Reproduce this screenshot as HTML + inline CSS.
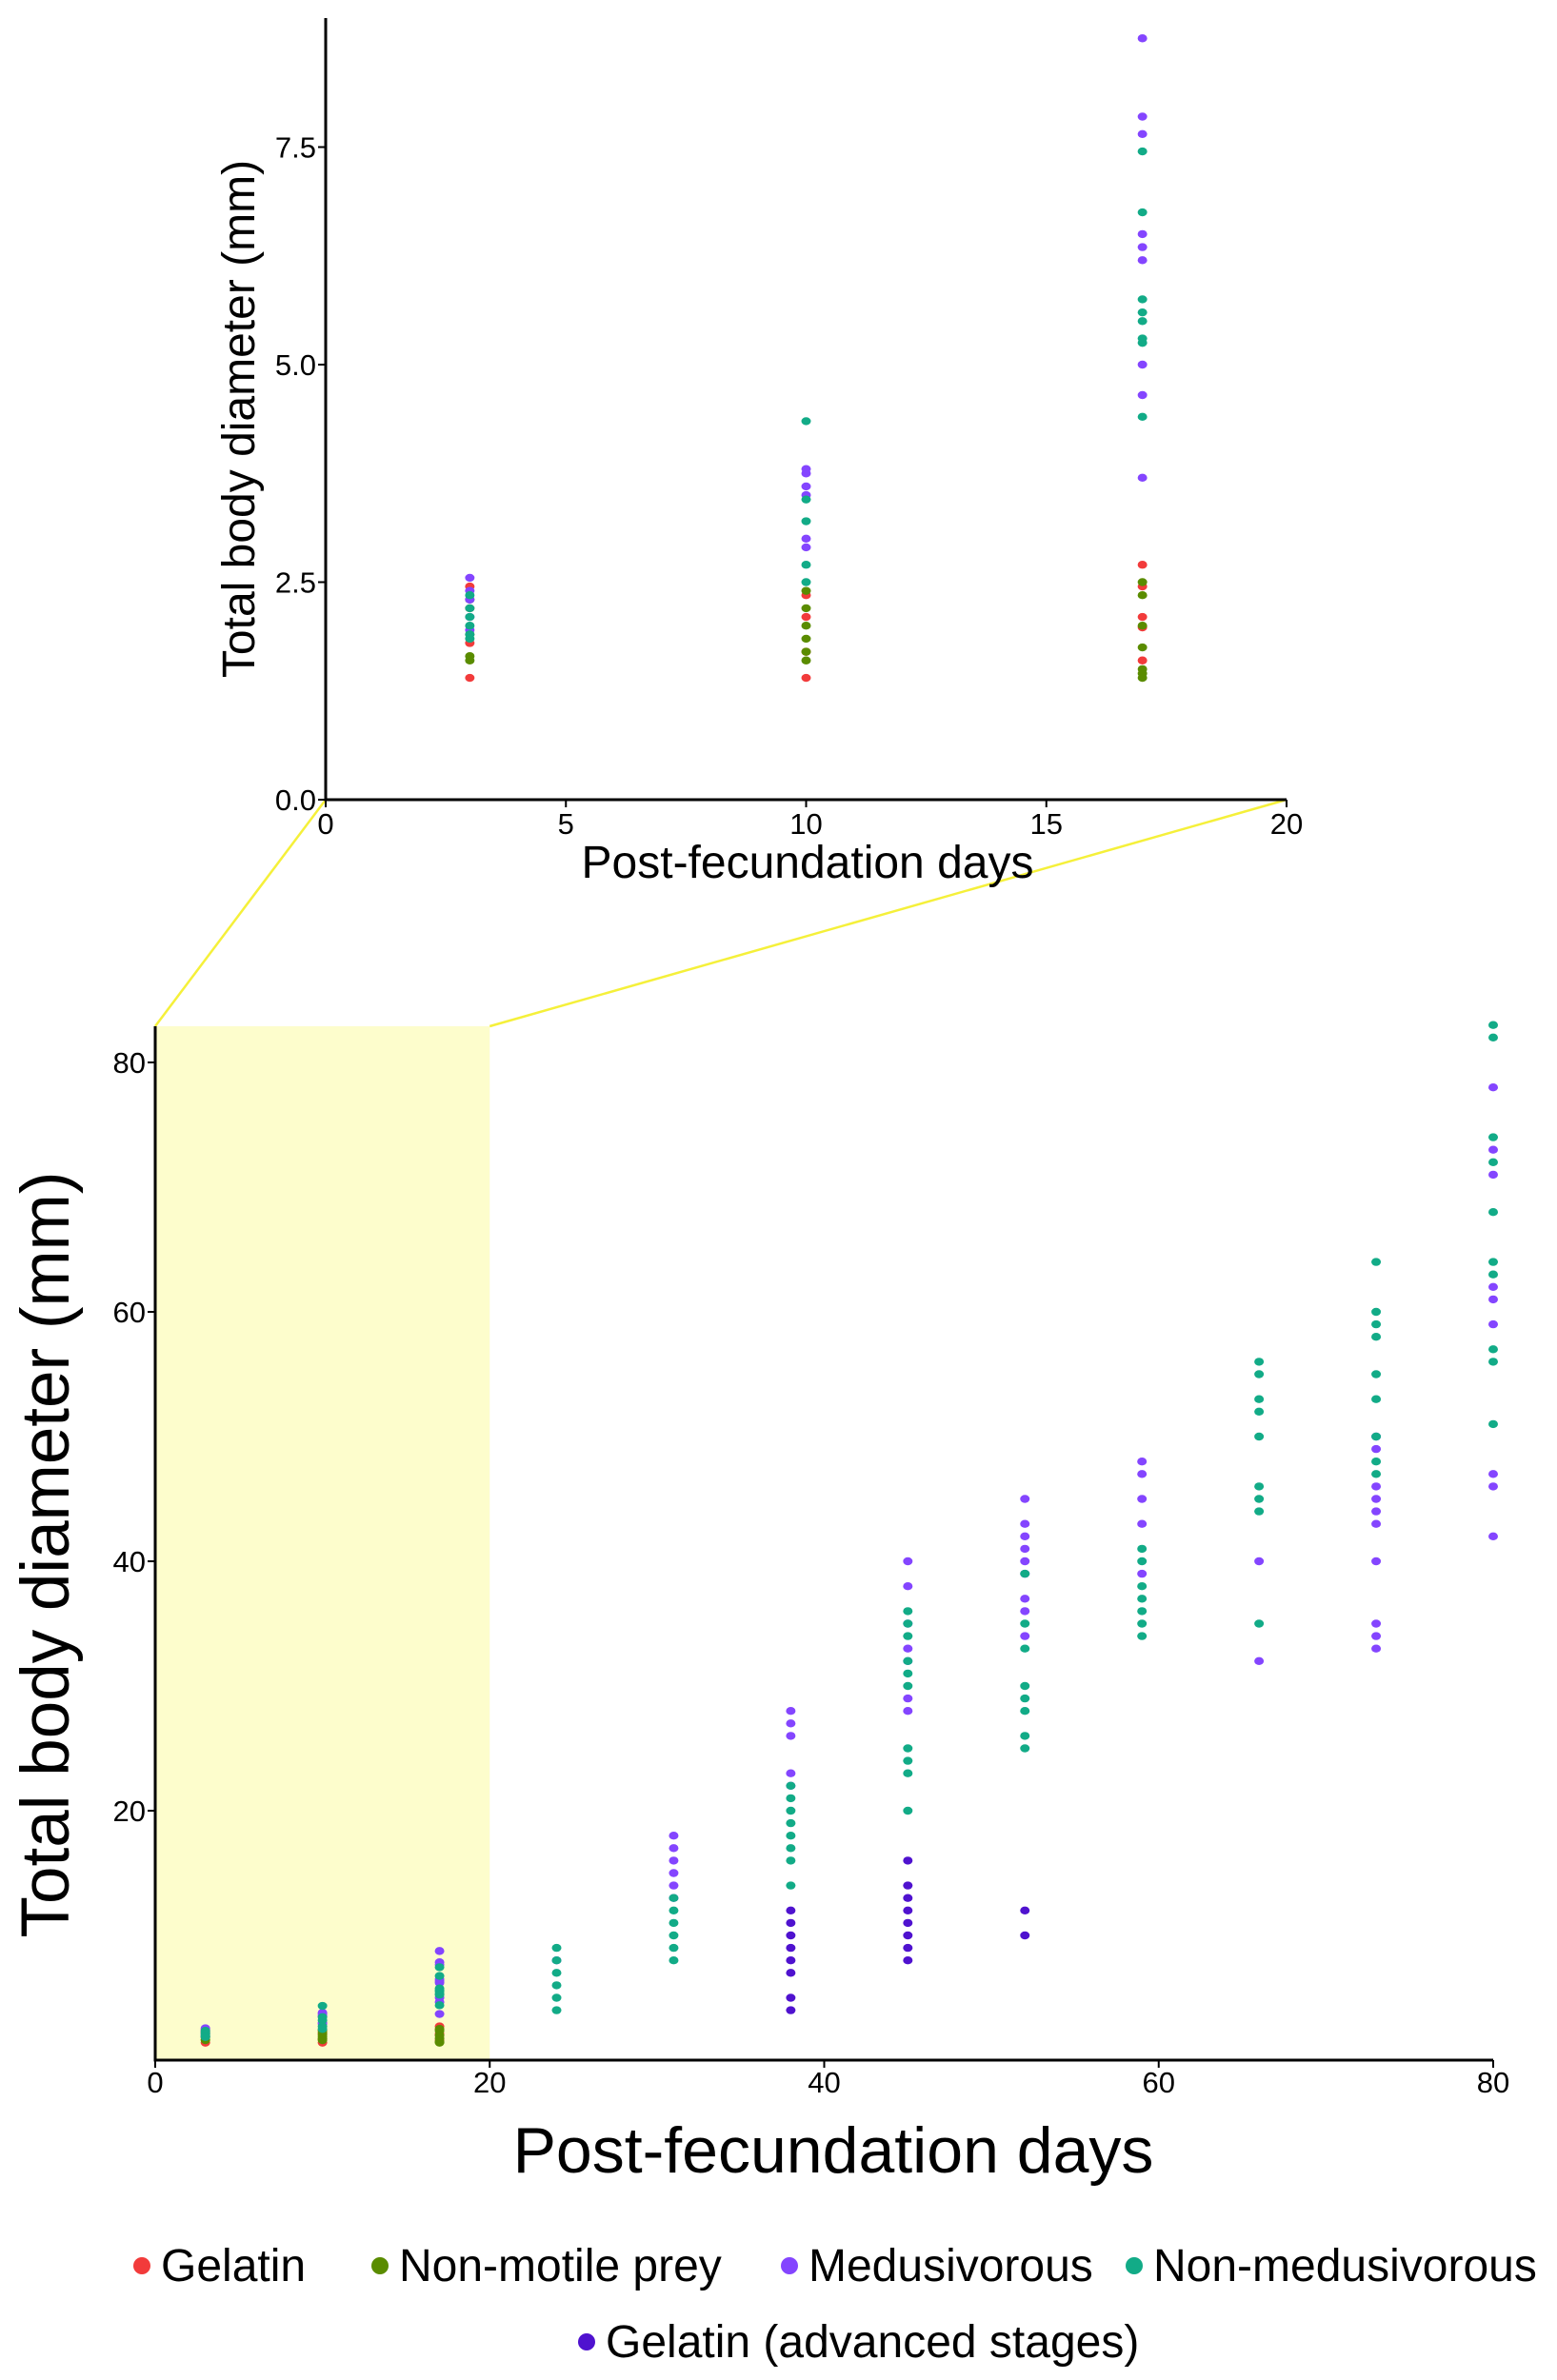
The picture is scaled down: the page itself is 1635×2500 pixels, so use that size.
<!DOCTYPE html>
<html><head><meta charset="utf-8"><style>
html,body{margin:0;padding:0;background:#fff;}
svg{display:block;font-family:"Liberation Sans",Arial,sans-serif;}
</style></head><body>
<svg id="chart" width="1635" height="2500" viewBox="0 0 1635 2500" xmlns="http://www.w3.org/2000/svg">
<g id="zoom"></g>
<g id="inset"></g>
<g id="main"></g>
<g id="legend"></g>
</svg>
<script>
const NS="http://www.w3.org/2000/svg";
const seriesNames=["Gelatin","Non-motile prey","Medusivorous","Non-medusivorous","Gelatin (advanced stages)"];
const seriesColors=["#f23b3b","#5a8c00","#8445ff","#12ab87","#4f12cf"];
const days=[3,10,17,24,31,38,45,52,59,66,73,80];
// values per series per day (mm)
const gelatin=[[1.4,1.8,2.2,2.45],[1.4,1.7,2.1,2.35],[2.7,2.45,2.1,1.98,1.6],[],[],[],[],[],[],[],[],[]];
const nonMotile=[[1.6,1.65,1.9,2.3],[1.6,1.7,1.85,2.0,2.2,2.4],[2.5,2.35,2.0,1.75,1.5,1.45,1.4],[],[],[],[],[],[],[],[],[]];
const medusivorous=[[2.55,2.4,2.3,2.1,1.95],[3.8,3.75,3.6,3.5,3.0,2.9],[8.75,7.85,7.65,6.5,6.35,6.2,5.0,4.65,3.7],[8],[18,17,16,15,14,13],[28,27,26,23,22],[40,38,35,33,32,29,28],[45,43,42,41,40,39,37,36,34],[48,47,45,43,39],[40,32],[50,49,46,45,44,43,40,35,34,33],[78,73,71,62,61,59,47,46,42]];
const nonMedusivorous=[[2.35,2.2,2.1,2.0,1.9,1.85],[4.35,3.45,3.2,2.7,2.5],[7.45,6.75,5.75,5.6,5.5,5.3,5.25,4.4],[9,8,7,6,5,4],[13,12,11,10,9,8],[22,21,20,19,18,17,16,14],[36,35,34,32,31,30,25,24,23,20],[39,35,33,30,29,28,26,25],[41,40,38,37,36,35,34],[56,55,53,52,50,46,45,44,35],[64,60,59,58,55,53,50,48,47],[83,82,74,72,68,64,63,57,56,51]];
const gelatinAdv=[[],[],[],[],[],[12,11,10,9,8,7,5,4],[16,14,13,12,11,10,9,8],[12,10],[],[],[],[]];
const allSeries=[gelatin,nonMotile,medusivorous,nonMedusivorous,gelatinAdv];
const insetXTicks=[0,5,10,15,20];
const insetYTicks=["0.0","2.5","5.0","7.5"];
const mainXTicks=[0,20,40,60,80];
const mainYTicks=[20,40,60,80];

function mk(tag,attrs,parent,text){const e=document.createElementNS(NS,tag);for(const k in attrs)e.setAttribute(k,attrs[k]);if(text!==undefined)e.textContent=text;parent.appendChild(e);return e;}

const ix=d=>342+d*(1351-342)/20;
const iy=v=>840-v*91.4;
const mx=d=>163+d*(1568-163)/80;
const my=v=>2164-v*13.1;

const zg=document.getElementById('zoom');
let r=mk('rect',{x:mx(0),y:1078,width:mx(20)-mx(0),height:my(0)-1078,fill:'#fdfdcc'},zg);


let l1=mk('line',{x1:mx(0),y1:1078,x2:ix(0),y2:iy(0),stroke:'#f5f03a','stroke-width':2.5},zg);


let l2=mk('line',{x1:mx(20),y1:1078,x2:ix(20),y2:iy(0),stroke:'#f5f03a','stroke-width':2.5},zg);



function drawAxes(g,x0,x1,y0,yTop,xt,xf,yt,yf,fs,xlabY){
  let a=mk('path',{d:`M${x0},${yTop} V${y0} H${x1}`,fill:'none',stroke:'#000','stroke-width':3},g);
  
  
  xt.forEach(t=>{
    mk('line',{x1:xf(t),y1:y0,x2:xf(t),y2:y0+8,stroke:'#000','stroke-width':2},g);
    let tx=mk('text',{x:xf(t),y:xlabY,'font-size':fs,'text-anchor':'middle'},g,String(t));
    
    
  });
  yt.forEach(t=>{
    const v=parseFloat(t);
    mk('line',{x1:x0-8,y1:yf(v),x2:x0,y2:yf(v),stroke:'#000','stroke-width':2},g);
    let ty=mk('text',{x:x0-10,y:yf(v)+11,'font-size':fs,'text-anchor':'end'},g,String(t));
    
    
  });
}
function drawPoints(g,xf,yf,maxDay){
  allSeries.forEach((s,si)=>{
    days.forEach((d,di)=>{
      if(d>maxDay)return;
      s[di].forEach(v=>{
        let c=mk('ellipse',{cx:xf(d),cy:yf(v),rx:5,ry:4.2,fill:seriesColors[si]},g);
        
        
      });
    });
  });
}
const ig=document.getElementById('inset');
drawAxes(ig,342,1351,840,19,insetXTicks,ix,insetYTicks,iy,31,876);
drawPoints(ig,ix,iy,20);
let it1=mk('text',{x:848,y:922,'font-size':48,'text-anchor':'middle'},ig,'Post-fecundation days');


let it2=mk('text',{x:0,y:0,'font-size':48,'text-anchor':'middle',transform:'translate(267,440) rotate(-90)'},ig,'Total body diameter (mm)');



const mg=document.getElementById('main');
drawAxes(mg,163,1568,2164,1078,mainXTicks,mx,mainYTicks,my,31,2198);
drawPoints(mg,mx,my,80);
let mt1=mk('text',{x:875,y:2282,'font-size':68,'text-anchor':'middle'},mg,'Post-fecundation days');


let mt2=mk('text',{x:0,y:0,'font-size':71,'text-anchor':'middle',transform:'translate(72,1633) rotate(-90)'},mg,'Total body diameter (mm)');



const lg=document.getElementById('legend');
const legPos=[[149,2380],[399,2380],[829,2380],[1191,2380],[616,2460]];
seriesNames.forEach((n,i)=>{
  const [x,y]=legPos[i];
  let c=mk('circle',{cx:x,cy:y,r:9,fill:seriesColors[i]},lg);
  
  
  let t=mk('text',{x:x+20,y:y+16,'font-size':48},lg,n);
  
  
});
</script>
</body></html>
